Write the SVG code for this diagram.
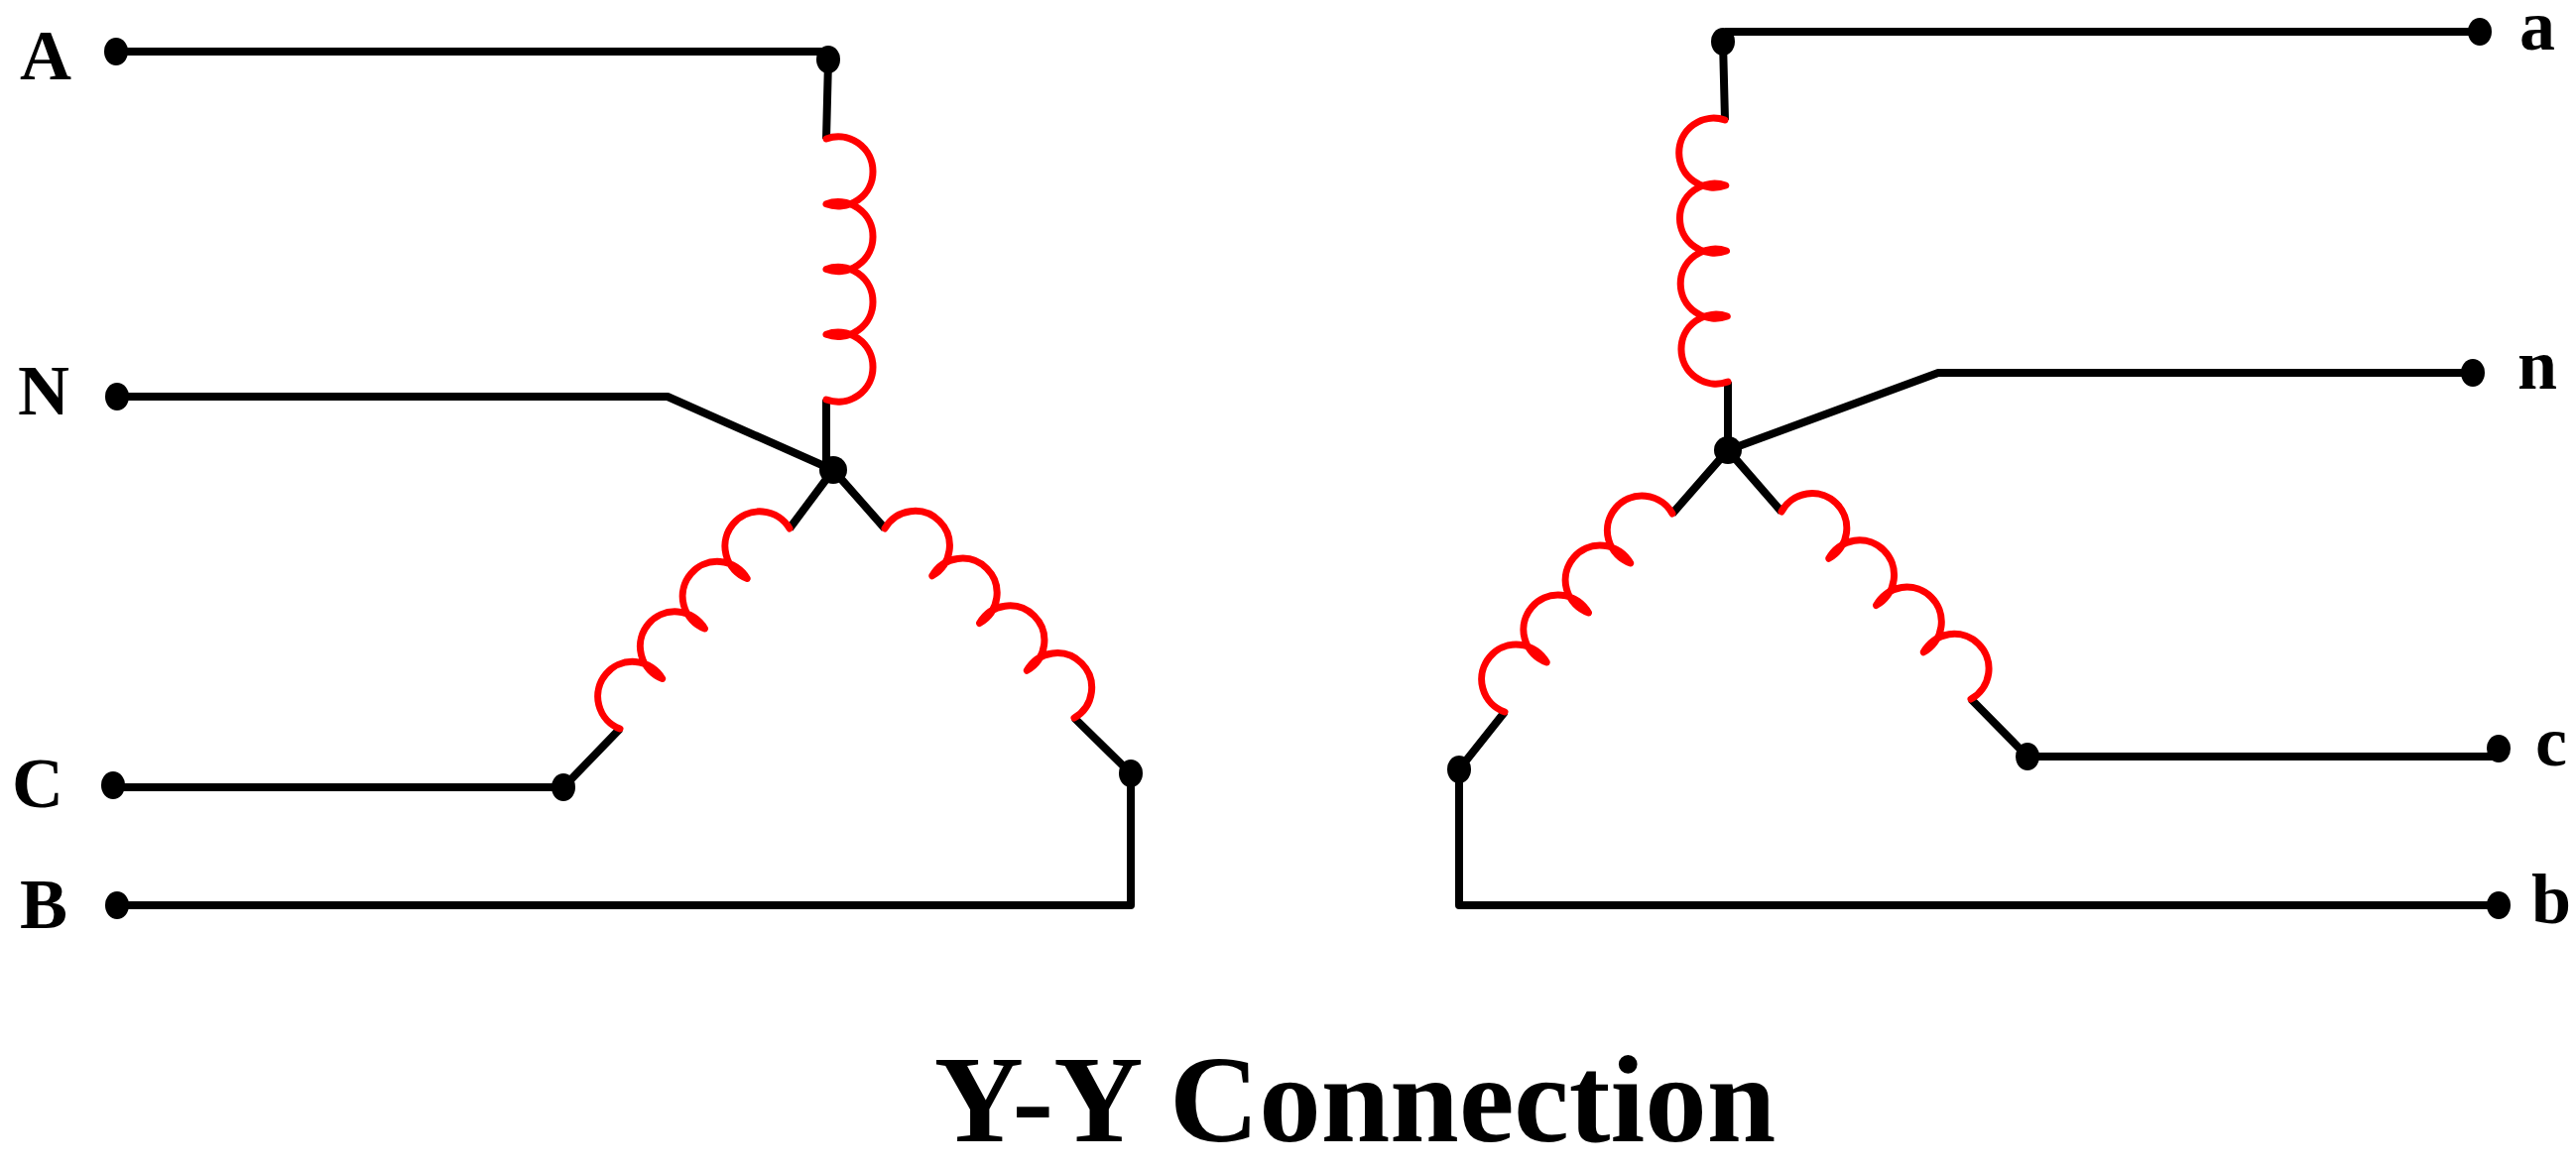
<svg xmlns="http://www.w3.org/2000/svg" width="2597" height="1180" viewBox="0 0 2597 1180">
<style>
.w{fill:none;stroke:#000;stroke-width:8;stroke-linejoin:round}
.c{fill:none;stroke:#f00;stroke-width:7;stroke-linecap:round;stroke-linejoin:round}
.d{fill:#000}
.t{font-family:"Liberation Serif","Times New Roman",serif;font-weight:bold;font-size:72px;fill:#000}
</style>
<rect width="2597" height="1180" fill="#fff"/>
<g id="connectors">
<path class="w" d="M117,52 H833 M835,61 L833,140 M833,403 V474"/>
<path class="w" d="M118,400 H673 L840,474"/>
<path class="w" d="M840,474 L796,533 M625,735 L568,794 H114"/>
<path class="w" d="M840,474 L892,533 M1083,724 L1140,780 V913 H118"/>
<path class="w" d="M1739,32 H2500 M1737,42 L1739,121 M1742,385 L1742,454"/>
<path class="w" d="M1742,454 L1954,376 H2493"/>
<path class="w" d="M1742,454 L1686,518 M1517,718 L1471,776 V913 H2519"/>
<path class="w" d="M1742,454 L1796,516 M1987,705 L2044,763 H2519"/>
</g>
<g id="coils">
<path class="c" d="M833,140 a35,35 0 1 1 0,65.75 a35,35 0 1 1 0,65.75 a35,35 0 1 1 0,65.75 a35,35 0 1 1 0,65.75"/>
<path class="c" d="M796,533 a35,35 0 1 0 -42.75,50.5 a35,35 0 1 0 -42.75,50.5 a35,35 0 1 0 -42.75,50.5 a35,35 0 1 0 -42.75,50.5"/>
<path class="c" d="M892,533 a35,35 0 1 1 47.75,47.75 a35,35 0 1 1 47.75,47.75 a35,35 0 1 1 47.75,47.75 a35,35 0 1 1 47.75,47.75"/>
<path class="c" d="M1739,121 a35,35 0 1 0 0.75,66 a35,35 0 1 0 0.75,66 a35,35 0 1 0 0.75,66 a35,35 0 1 0 0.75,66"/>
<path class="c" d="M1686,518 a35,35 0 1 0 -42.25,50 a35,35 0 1 0 -42.25,50 a35,35 0 1 0 -42.25,50 a35,35 0 1 0 -42.25,50"/>
<path class="c" d="M1796,516 a35,35 0 1 1 47.75,47.25 a35,35 0 1 1 47.75,47.25 a35,35 0 1 1 47.75,47.25 a35,35 0 1 1 47.75,47.25"/>
</g>
<g id="dots">
<ellipse class="d" cx="117" cy="52" rx="12" ry="14"/>
<ellipse class="d" cx="835" cy="60" rx="12" ry="14"/>
<ellipse class="d" cx="118" cy="400" rx="12" ry="14"/>
<ellipse class="d" cx="840" cy="474" rx="14" ry="14"/>
<ellipse class="d" cx="568" cy="794" rx="12" ry="14"/>
<ellipse class="d" cx="114" cy="792" rx="12" ry="14"/>
<ellipse class="d" cx="1140" cy="780" rx="12" ry="14"/>
<ellipse class="d" cx="118" cy="913" rx="12" ry="14"/>
<ellipse class="d" cx="1737" cy="42" rx="12" ry="14"/>
<ellipse class="d" cx="2500" cy="32" rx="12" ry="14"/>
<ellipse class="d" cx="1742" cy="454" rx="14" ry="14"/>
<ellipse class="d" cx="2493" cy="376" rx="12" ry="14"/>
<ellipse class="d" cx="1471" cy="776" rx="12" ry="14"/>
<ellipse class="d" cx="2044" cy="763" rx="12" ry="14"/>
<ellipse class="d" cx="2519" cy="755" rx="12" ry="14"/>
<ellipse class="d" cx="2519" cy="913" rx="12" ry="14"/>
</g>
<g id="labels">
<text class="t" x="20" y="80">A</text>
<text class="t" x="18" y="418">N</text>
<text class="t" x="12" y="814">C</text>
<text class="t" x="20" y="936">B</text>
<text class="t" x="2540" y="50">a</text>
<text class="t" x="2538" y="392">n</text>
<text class="t" x="2556" y="772">c</text>
<text class="t" x="2552" y="931">b</text>
<text x="1366" y="1151" text-anchor="middle" style="font-family:'Liberation Serif','Times New Roman',serif;font-weight:bold;font-size:125px">Y-Y Connection</text>
</g>
</svg>
